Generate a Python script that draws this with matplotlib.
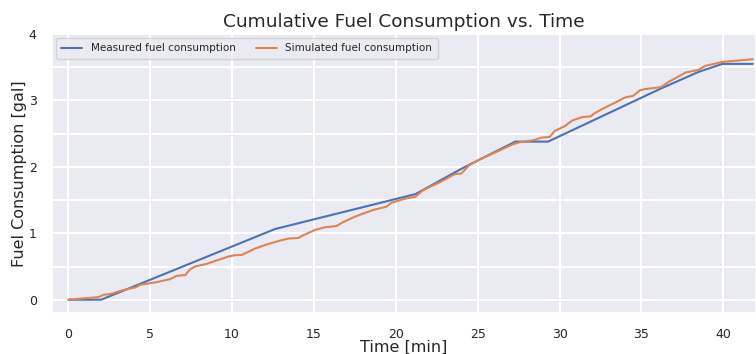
import matplotlib
matplotlib.use("Agg")
import matplotlib.pyplot as plt
import seaborn as sns
from matplotlib.ticker import MultipleLocator

# Measured fuel consumption (piecewise from picture)
meas_t = [0.0, 2.0, 12.62, 21.2, 24.0, 27.3, 29.3, 36.2, 38.5, 39.95, 41.8]
meas_f = [0.0, 0.0, 1.064, 1.59, 1.97, 2.38, 2.38, 3.18, 3.43, 3.55, 3.55]

# Simulated fuel consumption
sim_t = [0.0, 1.85, 2.15, 2.56, 3.27, 4.09, 4.39, 5.3, 6.22, 6.63, 7.13, 7.44,
         7.74, 8.45, 9.17, 9.78, 10.18, 10.59, 11.4, 12.1, 12.93, 13.43, 14.04,
         14.35, 15.06, 15.67, 16.38, 16.79, 17.6, 18.6, 19.43, 19.74, 20.55,
         21.2, 21.67, 22.7, 23.6, 24.0, 24.5, 25.1, 26.1, 27.15, 27.56, 28.4,
         28.9, 29.4, 29.7, 30.3, 30.8, 31.4, 31.9, 32.1, 32.6, 33.66, 33.96,
         34.5, 34.9, 35.2, 36.2, 36.6, 37.7, 38.5, 38.9, 39.96, 41.8]
sim_f = [0.0, 0.04, 0.075, 0.085, 0.14, 0.185, 0.225, 0.26, 0.31, 0.36, 0.37,
         0.46, 0.5, 0.54, 0.6, 0.65, 0.67, 0.674, 0.77, 0.83, 0.89, 0.92, 0.93,
         0.97, 1.05, 1.09, 1.11, 1.17, 1.26, 1.35, 1.40, 1.46, 1.52, 1.55, 1.65,
         1.77, 1.89, 1.90, 2.03, 2.11, 2.22, 2.34, 2.37, 2.40, 2.44, 2.45, 2.54,
         2.61, 2.70, 2.75, 2.76, 2.80, 2.87, 3.00, 3.04, 3.07, 3.15, 3.17, 3.20,
         3.27, 3.42, 3.46, 3.52, 3.58, 3.62]

sns.set_theme(style="darkgrid")
plt.rcParams['font.family'] = ['DejaVu Sans']

fig = plt.figure(figsize=(7.56, 3.54), dpi=100)
ax = fig.add_axes([52/756, 1-313/354, 1-52/756, (313-34)/354])

ax.plot(meas_t, meas_f, color="#4C72B0", lw=1.5, label="Measured fuel consumption")
ax.plot(sim_t, sim_f, color="#DD8452", lw=1.5, label="Simulated fuel consumption")

ax.set_xlim(-1, 42)
ax.set_ylim(-0.2, 4)
ax.xaxis.set_major_locator(MultipleLocator(5))
ax.yaxis.set_major_locator(MultipleLocator(1))
ax.yaxis.set_minor_locator(MultipleLocator(0.5))
ax.grid(which="major", color="white", lw=1.5)
ax.grid(which="minor", axis="y", color="white", lw=1.5)
ax.tick_params(axis="y", which="major", labelsize=9, colors="#262626", pad=5)
ax.tick_params(axis="x", which="major", labelsize=9, colors="#262626", pad=5)
ax.tick_params(axis="y", which="minor", length=0)

ax.set_title("Cumulative Fuel Consumption vs. Time", fontsize=13.3, color="#262626", pad=5)
ax.set_xlabel("Time [min]", fontsize=11.5, color="#262626", labelpad=-1)
ax.set_ylabel("Fuel Consumption [gal]", fontsize=11.5, color="#262626", labelpad=1)

ax.legend(loc="upper left", ncol=2, fontsize=7.5, frameon=True, borderaxespad=0.35,
          borderpad=0.55)

fig.savefig("out.png", dpi=100)
